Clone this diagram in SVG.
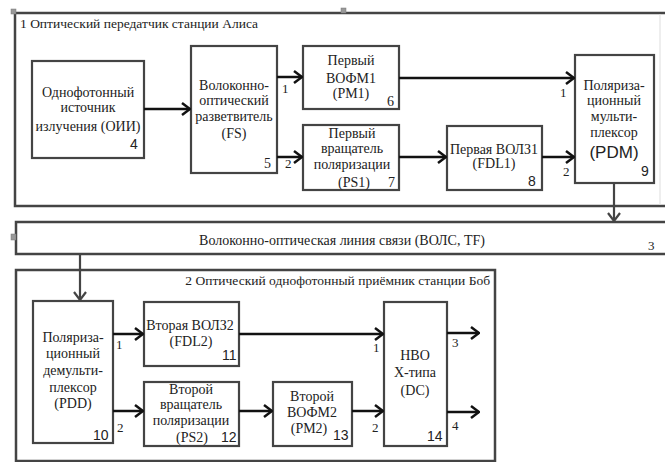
<svg xmlns="http://www.w3.org/2000/svg" width="665" height="462" viewBox="0 0 665 462">
  <style>
    text { font-family: 'Liberation Serif', 'Times New Roman', serif; font-size: 14px; fill: #222; }
    .c { text-anchor: middle; }
    .title { font-size: 13.5px; }
    .num { font-family: 'Liberation Sans', Arial, sans-serif; }
    .port { font-size: 13px; }
    .big { font-family: 'Liberation Sans', Arial, sans-serif; font-size: 17px; }
    .frame { fill: #fff; stroke: #444; stroke-width: 2.5; }
    .box { fill: #fff; stroke: #444; stroke-width: 2.2; }
    .wire { fill: none; stroke: #111; stroke-width: 2.5; marker-end: url(#chev); }
    .wire2 { fill: none; stroke: #444; stroke-width: 2.2; marker-end: url(#chev2); }
    .handle { fill: #999; stroke: #777; stroke-width: 0.5; }
  </style>
  <defs>
    <marker id="chev" viewBox="0 0 10 14" refX="9" refY="7" markerWidth="10" markerHeight="14" markerUnits="userSpaceOnUse" orient="auto">
      <polyline points="1,1 9,7 1,13" fill="none" stroke="#111" stroke-width="2.5"/>
    </marker>
    <marker id="chev2" viewBox="0 0 10 14" refX="9" refY="7" markerWidth="10" markerHeight="14" markerUnits="userSpaceOnUse" orient="auto">
      <polyline points="1,1 9,7 1,13" fill="none" stroke="#444" stroke-width="2.2"/>
    </marker>
  </defs>
  <rect width="665" height="462" fill="#fff"/>

  <!-- Alice transmitter frame -->
  <g id="alice">
    <rect class="frame" x="15" y="13" width="660" height="193"/>
    <line x1="660" y1="14" x2="660" y2="205" stroke="#ddd" stroke-width="1"/>
    <text class="title" x="20" y="28">1 Оптический передатчик станции Алиса</text>
    <rect class="handle" x="11" y="9" width="5" height="5"/>
    <rect class="handle" x="341" y="8" width="5" height="5"/>
  </g>

  <!-- fibre line -->
  <g id="tf">
    <rect class="frame" x="16" y="222" width="660" height="32"/>
    <rect class="handle" x="11" y="234" width="5" height="6"/>
    <text class="c" x="342" y="245">Волоконно-оптическая линия связи (ВОЛС, TF)</text>
    <text class="port" x="648" y="250">3</text>
  </g>

  <!-- Bob receiver frame -->
  <g id="bob">
    <rect class="frame" x="16" y="270" width="479" height="191"/>
    <text class="title" x="490" y="285" text-anchor="end">2 Оптический однофотонный приёмник станции Боб</text>
  </g>

  <g id="n4">
    <rect class="box" x="32" y="61" width="112" height="97"/>
    <text class="c" x="88" y="97">Однофотонный</text>
    <text class="c" x="88" y="112">источник</text>
    <text class="c" x="88" y="131">излучения (ОИИ)</text>
    <text class="num" x="130" y="149">4</text>
  </g>

  <g id="n5">
    <rect class="box" x="191" y="46" width="86" height="127"/>
    <text class="c" x="234" y="90">Волоконно-</text>
    <text class="c" x="234" y="105">оптический</text>
    <text class="c" x="234" y="121">разветвитель</text>
    <text class="c" x="234" y="138">(FS)</text>
    <text x="264" y="168">5</text>
  </g>

  <g id="n6">
    <rect class="box" x="303" y="46" width="96" height="63"/>
    <text class="c" x="351" y="65">Первый</text>
    <text class="c" x="351" y="83">ВОФМ1</text>
    <text class="c" x="351" y="98">(PM1)</text>
    <text x="387" y="106">6</text>
  </g>

  <g id="n7">
    <rect class="box" x="303" y="125" width="96" height="65"/>
    <text class="c" x="352" y="138">Первый</text>
    <text class="c" x="352" y="153">вращатель</text>
    <text class="c" x="352" y="169">поляризации</text>
    <text class="c" x="354" y="187">(PS1)</text>
    <text x="388" y="187">7</text>
  </g>

  <g id="n8">
    <rect class="box" x="447" y="126" width="95" height="64"/>
    <text class="c" x="494" y="154">Первая ВОЛЗ1</text>
    <text class="c" x="494" y="168">(FDL1)</text>
    <text class="num" x="528" y="186">8</text>
  </g>

  <g id="n9">
    <rect class="box" x="575" y="55" width="79" height="128"/>
    <text class="c" x="614" y="90">Поляриза-</text>
    <text class="c" x="614" y="105">ционный</text>
    <text class="c" x="614" y="121">мульти-</text>
    <text class="c" x="614" y="137">плексор</text>
    <text class="c big" x="614" y="158">(PDM)</text>
    <text class="num" x="641" y="176">9</text>
  </g>

  <g id="n10">
    <rect class="box" x="33" y="301" width="80" height="142"/>
    <text class="c" x="73" y="342">Поляриза-</text>
    <text class="c" x="73" y="358">ционный</text>
    <text class="c" x="73" y="375">демульти-</text>
    <text class="c" x="73" y="392">плексор</text>
    <text class="c" x="73" y="408">(PDD)</text>
    <text class="num" x="93" y="440">10</text>
  </g>

  <g id="n11">
    <rect class="box" x="144" y="302" width="95" height="64"/>
    <text class="c" x="190" y="330">Вторая ВОЛЗ2</text>
    <text class="c" x="191" y="346">(FDL2)</text>
    <text class="num" x="222" y="360">11</text>
  </g>

  <g id="n12">
    <rect class="box" x="144" y="382" width="95" height="64"/>
    <text class="c" x="191" y="394">Второй</text>
    <text class="c" x="191" y="409">вращатель</text>
    <text class="c" x="191" y="425">поляризации</text>
    <text class="c" x="192" y="442">(PS2)</text>
    <text class="num" x="221" y="442">12</text>
  </g>

  <g id="n13">
    <rect class="box" x="273" y="382" width="79" height="64"/>
    <text class="c" x="312" y="401">Второй</text>
    <text class="c" x="312" y="417">ВОФМ2</text>
    <text class="c" x="309" y="433">(PM2)</text>
    <text class="num" x="333" y="440">13</text>
  </g>

  <g id="n14">
    <rect class="box" x="384" y="302" width="63" height="144"/>
    <text class="c" x="415" y="360">НВО</text>
    <text class="c" x="415" y="377">Х-типа</text>
    <text class="c" x="415" y="395">(DC)</text>
    <text class="num" x="427" y="441">14</text>
  </g>

  <g id="connectors">
    <line class="wire" x1="144" y1="109" x2="190" y2="109"/>
    <line class="wire" x1="277" y1="77" x2="302" y2="77"/>
    <line class="wire" x1="277" y1="157" x2="302" y2="157"/>
    <line class="wire" x1="399" y1="78" x2="574" y2="78"/>
    <line class="wire" x1="399" y1="157" x2="446" y2="157"/>
    <line class="wire" x1="542" y1="157" x2="574" y2="157"/>
    <line class="wire2" x1="614" y1="183" x2="614" y2="221"/>
    <line class="wire2" x1="80" y1="254" x2="80" y2="300"/>
    <line class="wire" x1="113" y1="334" x2="143" y2="334"/>
    <line class="wire" x1="113" y1="411" x2="143" y2="411"/>
    <line class="wire" x1="239" y1="334" x2="383" y2="334"/>
    <line class="wire" x1="239" y1="411" x2="272" y2="411"/>
    <line class="wire" x1="352" y1="411" x2="383" y2="411"/>
    <line class="wire" x1="447" y1="333" x2="479" y2="333"/>
    <line class="wire" x1="447" y1="412" x2="479" y2="412"/>

    <!-- port numbers -->
    <text class="port" x="282" y="93">1</text>
    <text class="port" x="285" y="168">2</text>
    <text class="port" x="560" y="97">1</text>
    <text class="port" x="563" y="176">2</text>
    <text class="port" x="116" y="349">1</text>
    <text class="port" x="117" y="432">2</text>
    <text class="port" x="373" y="352">1</text>
    <text class="port" x="372" y="432">2</text>
    <text class="port" x="452" y="347">3</text>
    <text class="port" x="452" y="430">4</text>
  </g>
</svg>
